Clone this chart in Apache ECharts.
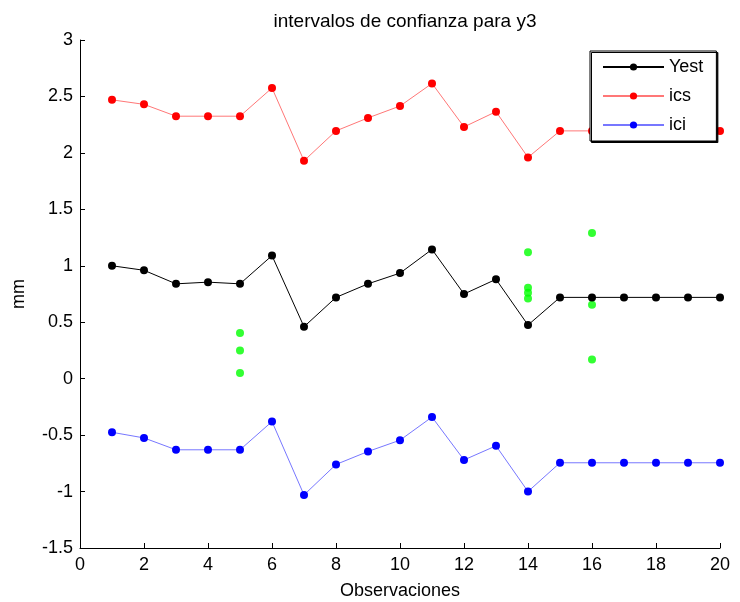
<!DOCTYPE html>
<html><head><meta charset="utf-8">
<script src="https://cdn.jsdelivr.net/npm/echarts@6/dist/echarts.min.js"></script>
<style>html,body{margin:0;padding:0;background:#fff}#c{width:740px;height:602px}</style>
</head><body><div id="c"></div>
<script>
const obs = [1,2,3,4,5,6,7,8,9,10,11,12,13,14,15,16,17,18,19,20];
const yest = [1.00,0.96,0.84,0.855,0.84,1.09,0.46,0.72,0.84,0.935,1.145,0.75,0.88,0.475,0.72,0.72,0.72,0.72,0.72,0.72];
const ics = [2.47,2.43,2.325,2.325,2.325,2.575,1.93,2.195,2.31,2.415,2.615,2.23,2.365,1.96,2.195,2.195,2.195,2.195,2.195,2.195];
const ici = [-0.475,-0.525,-0.63,-0.63,-0.63,-0.38,-1.03,-0.76,-0.645,-0.545,-0.34,-0.72,-0.595,-1.0,-0.745,-0.745,-0.745,-0.745,-0.745,-0.745];
const obsX = [5,5,5,14,14,14,14,16,16,16];
const obsY = [0.405,0.25,0.05,1.12,0.805,0.76,0.71,1.29,0.655,0.17];
const xTicks = [0,2,4,6,8,10,12,14,16,18,20];
const yTicks = [-1.5,-1,-0.5,0,0.5,1,1.5,2,2.5,3];

const font = 'Liberation Sans, Arial, sans-serif';
const chart = echarts.init(document.getElementById('c'), null, {renderer:'canvas'});
chart.setOption({
  animation:false,
  backgroundColor:'#fff',
  title:{text:'intervalos de confianza para y3', left:400, top:7, textAlign:'center',
    textStyle:{fontFamily:font, fontSize:19, fontWeight:'normal', color:'#000'}},
  grid:{left:80, right:20, top:40, bottom:54, outerBoundsMode:'none', containLabel:false},
  legend:{
    data:['Yest','ics','ici'], orient:'vertical', left:590, top:51,
    itemWidth:61, itemHeight:9, itemGap:11, padding:[7,13,7,12],
    borderColor:'#000', borderWidth:1, backgroundColor:'#fff',
    shadowColor:'#000', shadowOffsetX:1.5, shadowOffsetY:1.5,
    textStyle:{fontFamily:font, fontSize:18, color:'#000'}
  },
  xAxis:{type:'value', min:0, max:20, interval:2,
    name:'Observaciones', nameLocation:'middle', nameGap:34,
    nameTextStyle:{fontFamily:font, fontSize:18, color:'#000'},
    axisLine:{onZero:false, lineStyle:{color:'#000'}},
    axisTick:{inside:true, length:5, lineStyle:{color:'#000'}},
    axisLabel:{fontFamily:font, fontSize:18, color:'#000', margin:8},
    splitLine:{show:false}},
  yAxis:{type:'value', min:-1.5, max:3, interval:0.5,
    name:'mm', nameLocation:'middle', nameGap:52, nameRotate:90,
    nameTextStyle:{fontFamily:font, fontSize:18, color:'#000'},
    axisLine:{show:true, onZero:false, lineStyle:{color:'#000'}},
    axisTick:{show:true, inside:true, length:5, lineStyle:{color:'#000'}},
    axisLabel:{fontFamily:font, fontSize:18, color:'#000', margin:7},
    splitLine:{show:false}},
  series:[
    {name:'Yest', type:'line', data:obs.map((x,i)=>[x,yest[i]]), symbol:'circle', symbolSize:8,
      itemStyle:{color:'#000'}, lineStyle:{color:'#000', width:1}},
    {name:'ics', type:'line', data:obs.map((x,i)=>[x,ics[i]]), symbol:'circle', symbolSize:8,
      itemStyle:{color:'#ff0000'}, lineStyle:{color:'#ff7777', width:1}},
    {name:'ici', type:'line', data:obs.map((x,i)=>[x,ici[i]]), symbol:'circle', symbolSize:8,
      itemStyle:{color:'#0000ff'}, lineStyle:{color:'#7777ff', width:1}},
    {name:'obs', type:'scatter', data:obsX.map((x,i)=>[x,obsY[i]]), symbol:'circle', symbolSize:8,
      itemStyle:{color:'#00ff00'}}
  ]
});
</script></body></html>
